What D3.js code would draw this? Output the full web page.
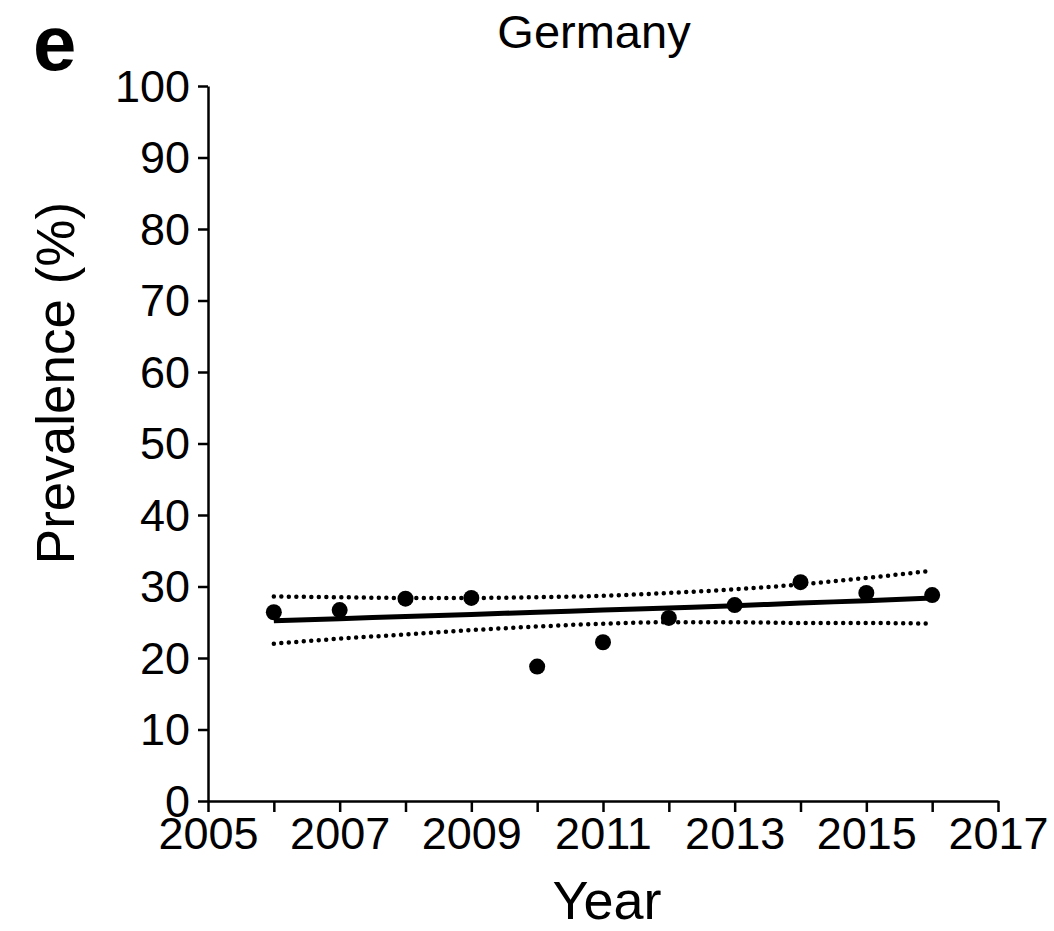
<!DOCTYPE html>
<html>
<head>
<meta charset="utf-8">
<script src="https://cdn.jsdelivr.net/npm/d3@7"></script>
<style>
  body { margin: 0; background: #fff; }
  svg text { font-family: "Liberation Sans", Arial, Helvetica, sans-serif; fill: #000; }
</style>
</head>
<body>
<div id="chart"></div>
<script>
// data
var years = [2006, 2007, 2008, 2009, 2010, 2011, 2012, 2013, 2014, 2015, 2016]
var prevalence = [26.4, 26.7, 28.3, 28.4, 18.8, 22.2, 25.6, 27.4, 30.6, 29.1, 28.8]
var fitLine = [25.2, 25.5, 25.8, 26.1, 26.4, 26.7, 27.0, 27.3, 27.7, 28.0, 28.4]
var upperCI = [28.6, 28.5, 28.4, 28.4, 28.5, 28.7, 29.1, 29.6, 30.3, 31.2, 32.2]
var lowerCI = [22.0, 22.7, 23.3, 23.9, 24.4, 24.8, 25.0, 25.0, 24.9, 24.9, 24.8]
var xTicks = [2005, 2006, 2007, 2008, 2009, 2010, 2011, 2012, 2013, 2014, 2015, 2016, 2017]
var xTickLabels = [2005, 2007, 2009, 2011, 2013, 2015, 2017]
var yTicks = [0, 10, 20, 30, 40, 50, 60, 70, 80, 90, 100]

var width = 1054
var height = 931
var mLeft = 208, mRight = 998, mTop = 86, mBottom = 801

var svg = d3.select("#chart").append("svg")
            .attr("width", width)
            .attr("height", height)

var x = d3.scaleLinear().domain([2005, 2017]).range([mLeft, mRight])
var y = d3.scaleLinear().domain([0, 100]).range([mBottom, mTop])

// y axis
var yAxis = svg.append("g")
               .attr("transform", "translate(" + mLeft + ",0)")
               .call(d3.axisLeft(y).tickValues(yTicks).tickSize(10).tickPadding(8).tickSizeOuter(0))
yAxis.select(".domain").attr("stroke", "#000").attr("stroke-width", 2.5)
yAxis.selectAll(".tick line").attr("stroke", "#000").attr("stroke-width", 2.5)
yAxis.selectAll(".tick text").attr("font-size", 45).attr("font-family", null)
     .attr("dy", "0.34em")

// x axis
var xAxis = svg.append("g")
               .attr("transform", "translate(0," + mBottom + ")")
               .call(d3.axisBottom(x).tickValues(xTicks).tickSize(11).tickPadding(5).tickSizeOuter(0)
                     .tickFormat(function (d) { return xTickLabels.indexOf(d) >= 0 ? d : "" }))
xAxis.select(".domain").attr("stroke", "#000").attr("stroke-width", 2.5)
xAxis.selectAll(".tick line").attr("stroke", "#000").attr("stroke-width", 2.5)
xAxis.selectAll(".tick text").attr("font-size", 45).attr("font-family", null)

// confidence bands (dotted)
function band(vals) {
	return d3.line()
	         .x(function (d, i) { return x(years[i]) })
	         .y(function (d) { return y(d) })
	         .curve(d3.curveMonotoneX)(vals)
}
svg.append("path").attr("d", band(upperCI))
   .attr("fill", "none").attr("stroke", "#000").attr("stroke-width", 4.5)
   .attr("stroke-linecap", "round").attr("stroke-dasharray", "0,7.5")
svg.append("path").attr("d", band(lowerCI))
   .attr("fill", "none").attr("stroke", "#000").attr("stroke-width", 4.5)
   .attr("stroke-linecap", "round").attr("stroke-dasharray", "0,7.5")

// fitted trend
svg.append("path").attr("d", band(fitLine))
   .attr("fill", "none").attr("stroke", "#000").attr("stroke-width", 5)

// observed points
svg.selectAll("circle.pt")
   .data(prevalence)
   .enter()
   .append("circle")
   .attr("class", "pt")
   .attr("cx", function (d, i) { return x(years[i]) })
   .attr("cy", function (d) { return y(d) })
   .attr("r", 8)
   .attr("fill", "#000")

// titles
svg.append("text").attr("x", 594).attr("y", 48)
   .attr("text-anchor", "middle").attr("font-size", 47).text("Germany")
svg.append("text").attr("x", 33).attr("y", 70)
   .attr("font-size", 78).attr("font-weight", "bold").text("e")
svg.append("text").attr("x", 607).attr("y", 919)
   .attr("text-anchor", "middle").attr("font-size", 54).text("Year")
svg.append("text")
   .attr("transform", "translate(74,383) rotate(-90)")
   .attr("text-anchor", "middle").attr("font-size", 53).text("Prevalence (%)")
</script>
</body>
</html>
